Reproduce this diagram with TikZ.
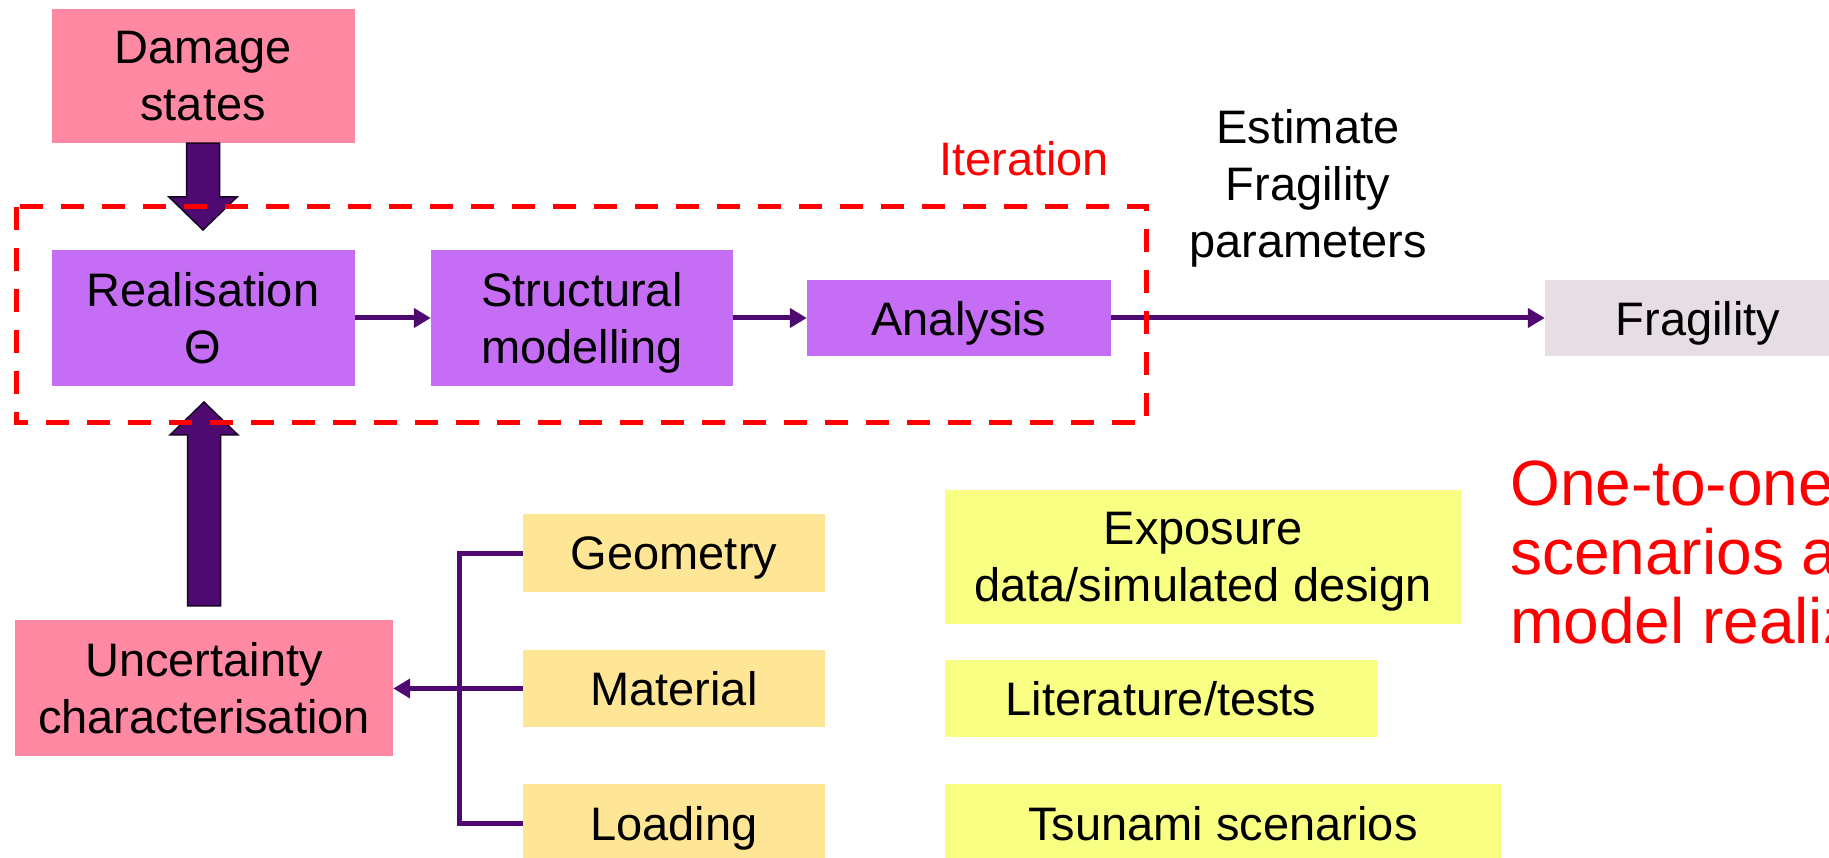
\documentclass[tikz,border=0pt]{standalone}
\usepackage{fontspec}
\setmainfont{Liberation Sans}
\usetikzlibrary{arrows.meta,calc}
\definecolor{pinkbox}{RGB}{255,136,163}
\definecolor{violetbox}{RGB}{197,110,245}
\definecolor{fragbox}{RGB}{230,222,228}
\definecolor{sandbox}{RGB}{255,230,150}
\definecolor{yellowbox}{RGB}{249,255,130}
\definecolor{arrowpurple}{RGB}{78,10,112}
\definecolor{itred}{RGB}{255,0,0}
\begin{document}
\begin{tikzpicture}[x=1pt,y=-1pt,
  box/.style={inner sep=0pt, align=center, text depth=0pt, font=\fontsize{47pt}{57pt}\selectfont},
  lbl/.style={inner sep=0pt, align=center, text depth=0pt, font=\fontsize{47pt}{57pt}\selectfont},
  conn/.style={draw=arrowpurple, line width=5pt, line join=miter},
  connarrow/.style={conn, -{Triangle[length=17pt,width=19pt]}},
  bigarrow/.style={fill=arrowpurple, draw=black!70!arrowpurple, line width=1.5pt, line join=miter},
  iterframe/.style={draw=itred, line width=5pt, dash pattern=on 23pt off 18pt}
]
\useasboundingbox (0,0) rectangle (1829,858);
\clip (0,0) rectangle (1829,858);

% boxes
\node[box,fill=pinkbox,minimum width=303pt,minimum height=134pt] (dmg) at (203,76) {Damage\\states};
\node[box,fill=violetbox,minimum width=303pt,minimum height=136pt] (real) at (203,318) {Realisation\\Θ};
\node[box,fill=violetbox,minimum width=302pt,minimum height=136pt] (struc) at (582,318) {Structural\\modelling};
\node[box,fill=violetbox,minimum width=304pt,minimum height=76pt] (anal) at (959,318) {Analysis};
\node[box,fill=fragbox,minimum width=306pt,minimum height=76pt] (frag) at (1698,318) {Fragility};
\node[box,fill=pinkbox,minimum width=378pt,minimum height=136pt] (unc) at (204,688) {Uncertainty\\characterisation};
\node[box,fill=sandbox,minimum width=302pt,minimum height=78pt] (geo) at (674,553) {Geometry};
\node[box,fill=sandbox,minimum width=302pt,minimum height=77pt] (mat) at (674,688.5) {Material};
\node[box,fill=sandbox,minimum width=302pt,minimum height=78pt] (load) at (674,823) {Loading};
\node[box,fill=yellowbox,minimum width=516pt,minimum height=134pt] (expo) at (1203,557) {Exposure\\data/simulated design};
\node[box,fill=yellowbox,minimum width=432pt,minimum height=77pt] (lit) at (1161,698.5) {Literature/tests};
\node[box,fill=yellowbox,minimum width=556pt,minimum height=78pt] (tsu) at (1223,823) {Tsunami scenarios};

% labels
\node[lbl,text=itred] (iter) at (1024,158) {Iteration};
\node[lbl] (est) at (1308,183) {Estimate\\Fragility\\parameters};
\node[inner sep=0pt, align=left, text depth=0pt, text=itred, anchor=west,
      font=\fontsize{64pt}{69pt}\selectfont] (note) at (1510,552.5) {One-to-one\\scenarios a\\model realiz};

% big arrows
\coordinate (dtip) at (203,230);
\draw[bigarrow] ($(dmg.south)+(-16.5,0)$) -- ($(dtip)+(-16.5,-33)$) -- ($(dtip)+(-34,-33)$) -- (dtip)
  -- ($(dtip)+(34,-33)$) -- ($(dtip)+(16.5,-33)$) -- ($(dmg.south)+(16.5,0)$) -- cycle;
\coordinate (utip) at (204,402);
\coordinate (ubase) at ($(unc.north)+(0,-14)$);
\draw[bigarrow] ($(ubase)+(-16.5,0)$) -- ($(utip)+(-16.5,33)$) -- ($(utip)+(-34,33)$) -- (utip)
  -- ($(utip)+(34,33)$) -- ($(utip)+(16.5,33)$) -- ($(ubase)+(16.5,0)$) -- cycle;

% thin connectors
\draw[connarrow] (real.east) -- (struc.west);
\draw[connarrow] (struc.east) -- (anal.west);
\draw[connarrow] (anal.east) -- (frag.west);
\coordinate (bx) at (459,688);
\draw[conn] (geo.west) -- (geo.west -| bx) -- (load.west -| bx) -- (load.west);
\draw[connarrow] (mat.west) -- (mat.west -| unc.east);

% iteration frame
\draw[iterframe] (16,207) rectangle (1146,423);
\end{tikzpicture}
\end{document}
